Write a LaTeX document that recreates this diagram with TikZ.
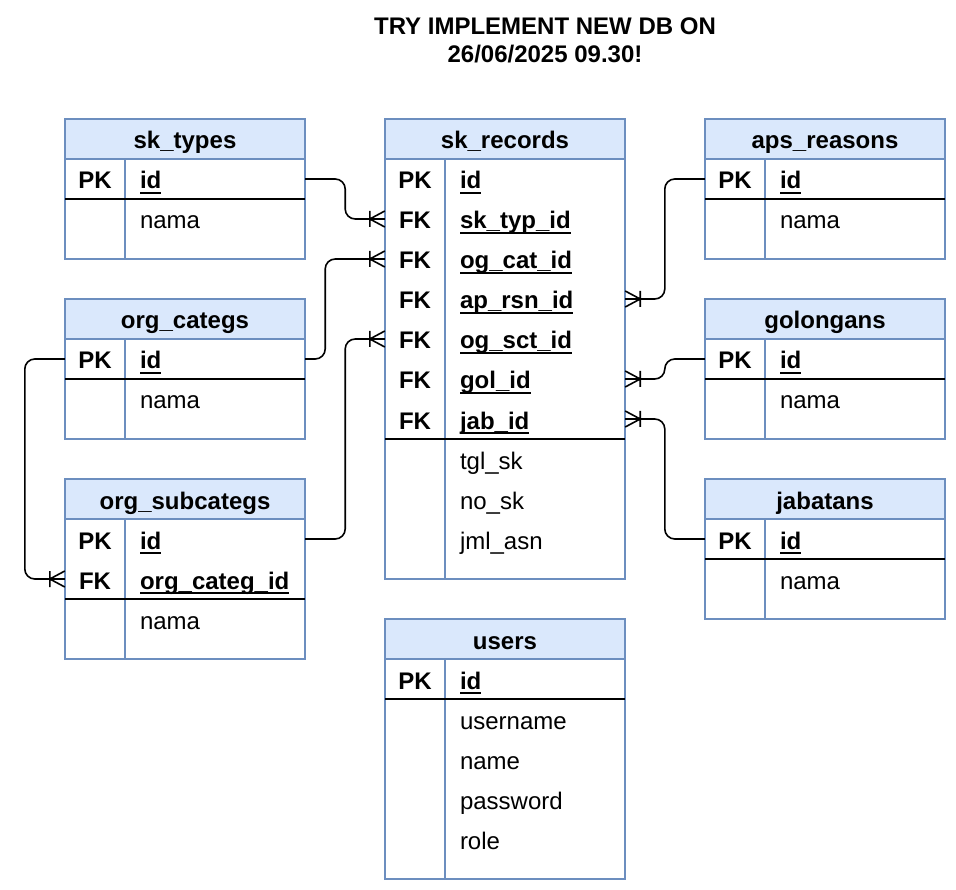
\documentclass[tikz,border=0pt]{standalone}
\usepackage{fontspec}
\setmainfont{Liberation Sans}
\definecolor{hdrfill}{HTML}{DAE8FC}
\definecolor{hdrline}{HTML}{6C8EBF}
\newcommand{\tablefont}{\fontsize{24}{28}\selectfont}
\newcommand{\keyul}[1]{\setbox0\hbox{#1}\rlap{\rule[-5pt]{\wd0}{1.8pt}}\box0}
\pgfdeclarearrow{
  name = crowfoot,
  setup code = {
    \pgfarrowssettipend{0pt}
    \pgfarrowssetlineend{0pt}
    \pgfarrowssetbackend{-15pt}
    \pgfarrowssetvisualbackend{-15pt}
    \pgfarrowshullpoint{0pt}{8pt}
    \pgfarrowshullpoint{0pt}{-8pt}
    \pgfarrowshullpoint{-15pt}{8pt}
    \pgfarrowshullpoint{-15pt}{-8pt}
  },
  drawing code = {
    \pgfsetdash{}{0pt}
    \pgfpathmoveto{\pgfqpoint{0pt}{8pt}}
    \pgfpathlineto{\pgfqpoint{-15pt}{0pt}}
    \pgfpathlineto{\pgfqpoint{0pt}{-8pt}}
    \pgfpathmoveto{\pgfqpoint{-15pt}{8pt}}
    \pgfpathlineto{\pgfqpoint{-15pt}{-8pt}}
    \pgfusepathqstroke
  }
}
\tikzstyle{title} = [align=center, font=\tablefont\bfseries]
\tikzstyle{header} = [rectangle, draw=hdrline, fill=hdrfill, line width=1.6pt,
    minimum width=240pt, minimum height=40pt, font=\tablefont\bfseries,
    text height=20pt, text depth=0pt]
\tikzstyle{keycell} = [rectangle, minimum width=60pt, minimum height=40pt,
    inner sep=0pt, font=\tablefont\bfseries, text height=20pt, text depth=0pt]
\tikzstyle{fieldcell} = [rectangle, minimum height=40pt, text width=150pt,
    inner xsep=15pt, inner ysep=0pt, align=left, font=\tablefont,
    text height=20pt, text depth=0pt]
\tikzstyle{keyfield} = [fieldcell, font=\tablefont\bfseries]
\tikzstyle{frame} = [draw=hdrline, line width=1.6pt]
\tikzstyle{keyline} = [draw=black, line width=1.6pt]
\tikzstyle{relation} = [draw, line width=1.6pt, rounded corners=10pt, -crowfoot]

\begin{document}
\begin{tikzpicture}[x=1pt, y=-1pt, node distance=40pt]
    \useasboundingbox (0,0) rectangle (956,890);
    \node [title] (title) at (545,40) {TRY IMPLEMENT NEW DB ON\\26/06/2025 09.30!};
    % sk_types
    \node [header] (skt) at (185,139) {sk\_types};
    \node [keycell] (skt-k1) at (95,179) {PK};
    \node [keyfield, right of=skt-k1, node distance=120pt] (skt-1) {\keyul{id}};
    \node [fieldcell, below of=skt-1] (skt-2) {nama};
    \draw [frame] (65,159) rectangle (305,259) (125,159) -- (125,259);
    \draw [keyline] (65,199) -- (305,199);
    % sk_records
    \node [header] (skr) at (505,139) {sk\_records};
    \node [keycell] (skr-k1) at (415,179) {PK};
    \node [keycell, below of=skr-k1] (skr-k2) {FK};
    \node [keycell, below of=skr-k2] (skr-k3) {FK};
    \node [keycell, below of=skr-k3] (skr-k4) {FK};
    \node [keycell, below of=skr-k4] (skr-k5) {FK};
    \node [keycell, below of=skr-k5] (skr-k6) {FK};
    \node [keycell, below of=skr-k6] (skr-k7) {FK};
    \node [keyfield, right of=skr-k1, node distance=120pt] (skr-1) {\keyul{id}};
    \node [keyfield, below of=skr-1] (skr-2) {\keyul{sk\_typ\_id}};
    \node [keyfield, below of=skr-2] (skr-3) {\keyul{og\_cat\_id}};
    \node [keyfield, below of=skr-3] (skr-4) {\keyul{ap\_rsn\_id}};
    \node [keyfield, below of=skr-4] (skr-5) {\keyul{og\_sct\_id}};
    \node [keyfield, below of=skr-5] (skr-6) {\keyul{gol\_id}};
    \node [keyfield, below of=skr-6] (skr-7) {\keyul{jab\_id}};
    \node [fieldcell, below of=skr-7] (skr-8) {tgl\_sk};
    \node [fieldcell, below of=skr-8] (skr-9) {no\_sk};
    \node [fieldcell, below of=skr-9] (skr-10) {jml\_asn};
    \draw [frame] (385,159) rectangle (625,579) (445,159) -- (445,579);
    \draw [keyline] (385,439) -- (625,439);
    % aps_reasons
    \node [header] (apr) at (825,139) {aps\_reasons};
    \node [keycell] (apr-k1) at (735,179) {PK};
    \node [keyfield, right of=apr-k1, node distance=120pt] (apr-1) {\keyul{id}};
    \node [fieldcell, below of=apr-1] (apr-2) {nama};
    \draw [frame] (705,159) rectangle (945,259) (765,159) -- (765,259);
    \draw [keyline] (705,199) -- (945,199);
    % org_categs
    \node [header] (ogc) at (185,319) {org\_categs};
    \node [keycell] (ogc-k1) at (95,359) {PK};
    \node [keyfield, right of=ogc-k1, node distance=120pt] (ogc-1) {\keyul{id}};
    \node [fieldcell, below of=ogc-1] (ogc-2) {nama};
    \draw [frame] (65,339) rectangle (305,439) (125,339) -- (125,439);
    \draw [keyline] (65,379) -- (305,379);
    % golongans
    \node [header] (gol) at (825,319) {golongans};
    \node [keycell] (gol-k1) at (735,359) {PK};
    \node [keyfield, right of=gol-k1, node distance=120pt] (gol-1) {\keyul{id}};
    \node [fieldcell, below of=gol-1] (gol-2) {nama};
    \draw [frame] (705,339) rectangle (945,439) (765,339) -- (765,439);
    \draw [keyline] (705,379) -- (945,379);
    % org_subcategs
    \node [header] (ogs) at (185,499) {org\_subcategs};
    \node [keycell] (ogs-k1) at (95,539) {PK};
    \node [keycell, below of=ogs-k1] (ogs-k2) {FK};
    \node [keyfield, right of=ogs-k1, node distance=120pt] (ogs-1) {\keyul{id}};
    \node [keyfield, below of=ogs-1] (ogs-2) {\keyul{org\_categ\_id}};
    \node [fieldcell, below of=ogs-2] (ogs-3) {nama};
    \draw [frame] (65,519) rectangle (305,659) (125,519) -- (125,659);
    \draw [keyline] (65,599) -- (305,599);
    % jabatans
    \node [header] (jab) at (825,499) {jabatans};
    \node [keycell] (jab-k1) at (735,539) {PK};
    \node [keyfield, right of=jab-k1, node distance=120pt] (jab-1) {\keyul{id}};
    \node [fieldcell, below of=jab-1] (jab-2) {nama};
    \draw [frame] (705,519) rectangle (945,619) (765,519) -- (765,619);
    \draw [keyline] (705,559) -- (945,559);
    % users
    \node [header] (usr) at (505,639) {users};
    \node [keycell] (usr-k1) at (415,679) {PK};
    \node [keyfield, right of=usr-k1, node distance=120pt] (usr-1) {\keyul{id}};
    \node [fieldcell, below of=usr-1] (usr-2) {username};
    \node [fieldcell, below of=usr-2] (usr-3) {name};
    \node [fieldcell, below of=usr-3] (usr-4) {password};
    \node [fieldcell, below of=usr-4] (usr-5) {role};
    \draw [frame] (385,659) rectangle (625,879) (445,659) -- (445,879);
    \draw [keyline] (385,699) -- (625,699);
    % relations
    \path [relation] (skt-1.east) -- ++(40,0) |- (skr-k2.west);
    \path [relation] (ogc-1.east) -- ++(20,0) |- (skr-k3.west);
    \path [relation] (ogs-1.east) -- ++(40,0) |- (skr-k5.west);
    \path [relation] (apr-k1.west) -- ++(-40,0) |- (skr-4.east);
    \path [relation] (gol-k1.west) -- ++(-40,0) |- (skr-6.east);
    \path [relation] (jab-k1.west) -- ++(-40,0) |- (skr-7.east);
    \path [relation] (ogc-k1.west) -- ++(-40,0) |- (ogs-k2.west);
\end{tikzpicture}
\end{document}
